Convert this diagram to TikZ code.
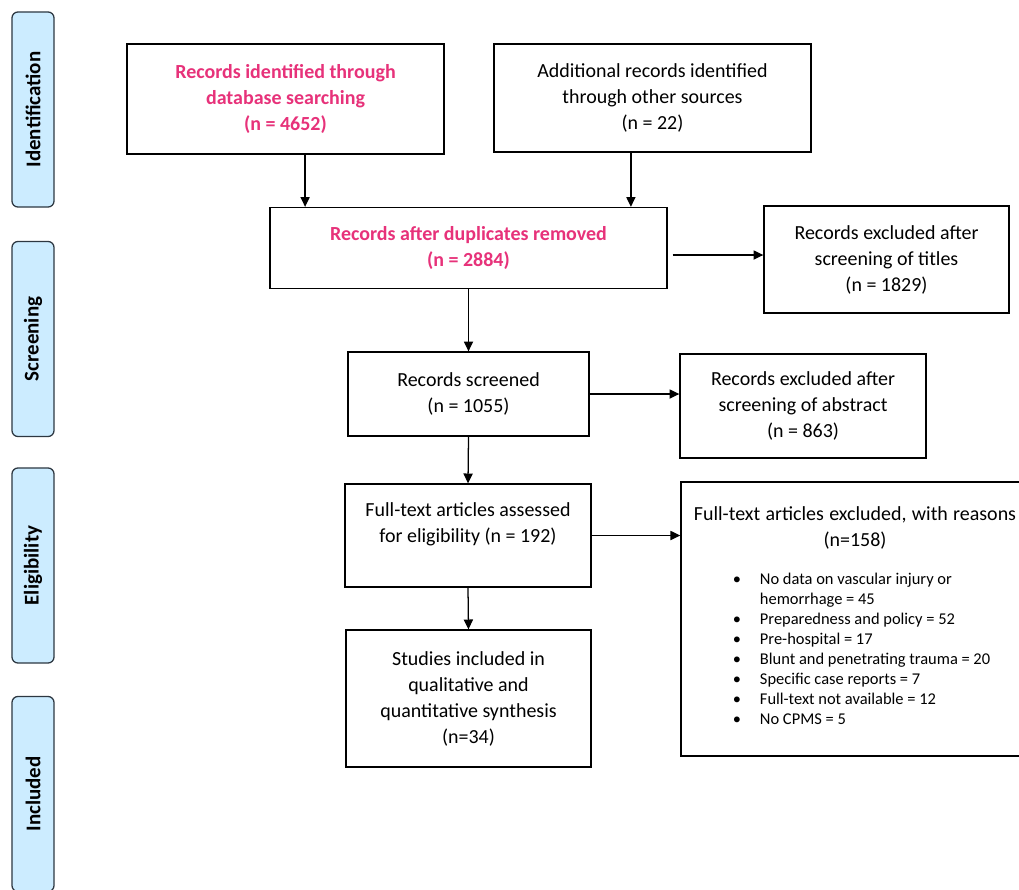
\documentclass[tikz,border=0pt]{standalone}
\usepackage{fontspec}
\setmainfont{Carlito}
\definecolor{prismapink}{RGB}{231,50,122}
\definecolor{prismablue}{RGB}{204,236,255}
\definecolor{prismaedge}{RGB}{45,55,65}
\usetikzlibrary{arrows.meta,positioning}
\newcommand{\boxfont}{\fontsize{14.2}{18.5}\selectfont}
\newcommand{\listfont}{\fontsize{11.7}{14.3}\selectfont\spaceskip=0pt\xspaceskip=0pt}
\newcommand{\sidefont}{\fontsize{14.9}{18}\selectfont\bfseries}
\tikzset{
  box/.style={rectangle,draw=black,line width=0.9pt,fill=white,
              inner sep=0pt,font=\boxfont,align=center,text=black},
  hot/.style={text=prismapink,font=\boxfont\bfseries},
  boxlabel/.style={font=\boxfont,align=center,yshift=0.29cm},
  side/.style={rectangle,rounded corners=0.15cm,draw=prismaedge,
               line width=0.9pt,fill=prismablue,minimum width=4.875cm,
               minimum height=1.05cm,rotate=90,font=\sidefont},
  arr/.style={-{Triangle[length=7pt,width=6.5pt]},line width=0.9pt},
}
\begin{document}
\begin{tikzpicture}[x=0.025cm,y=-0.025cm]
  \path[use as bounding box,clip] (0,0) rectangle (1019,889);
  % phase bars on the left
  \foreach \y/\phase [count=\i] in {109.5/Identification, 339/Screening,
                                   565.5/Eligibility, 794/Included}
    \node[side] (phase\i) at (33,\y) {\phase};
  % identification
  \node[box,hot,minimum width=7.925cm,minimum height=2.75cm] (db) at (285.5,99)
        {Records identified through\\database searching\\(n = 4652)};
  \node[box,minimum width=7.925cm,minimum height=2.7cm] (other) at (652.5,98)
        {Additional records identified\\through other sources\\(n = 22)};
  % screening
  \node[box,hot,minimum width=9.925cm,minimum height=2.025cm] (dup) at (468.5,248)
        {Records after duplicates removed\\(n = 2884)};
  \node[box,minimum width=6.125cm,minimum height=2.675cm] (titles) at (886.5,259.5)
        {Records excluded after\\screening of titles\\(n = 1829)};
  \node[box,minimum width=6.025cm,minimum height=2.1cm] (screened) at (468.5,394)
        {Records screened\\(n = 1055)};
  \node[box,minimum width=6.15cm,minimum height=2.6cm] (abstract) at (803,406)
        {Records excluded after\\screening of abstract\\(n = 863)};
  % eligibility
  \node[box,minimum width=6.15cm,minimum height=2.575cm,
        label={[boxlabel]center:{Full-text articles assessed\\for eligibility (n = 192)}}]
        (assessed) at (468,535.5) {};
  \node[box,text width=8.7cm,minimum height=6.85cm,
        execute at begin node={\spaceskip=0pt\xspaceskip=0pt}] (excl) at (855,619)
        {Full-text articles excluded, with reasons\\(n=158)\\[0.28cm]
         \makebox[8.7cm][l]{\hspace{1.3cm}\listfont
         \begin{tabular}[t]{@{}p{0.675cm}@{}l@{}}
           \textbullet & No data on vascular injury or\\
                       & hemorrhage = 45\\
           \textbullet & Preparedness and policy = 52\\
           \textbullet & Pre-hospital = 17\\
           \textbullet & Blunt and penetrating trauma = 20\\
           \textbullet & Specific case reports = 7\\
           \textbullet & Full-text not available = 12\\
           \textbullet & No CPMS = 5
         \end{tabular}}};
  % included
  \node[box,minimum width=6.125cm,minimum height=3.425cm] (incl) at (468.5,698.5)
        {Studies included in\\qualitative and\\quantitative synthesis\\(n=34)};
  % connectors
  \draw[arr] ([xshift=0.49cm]db.south) coordinate (dbout) -- (dbout |- dup.north);
  \draw[arr] ([xshift=-0.54cm]other.south) coordinate (otherout) -- (otherout |- dup.north);
  \draw[arr,shorten <=0.125cm] ([yshift=-0.175cm]dup.east) coordinate (dupout)
        -- (dupout -| titles.west);
  \draw[arr] (dup.south) -- (screened.north);
  \draw[arr] (screened.east) -- (screened.east -| abstract.west);
  \draw[arr] (screened.south) -- (assessed.north);
  \draw[arr] (assessed.east) -- (assessed.east -| excl.west);
  \draw[arr] (assessed.south) -- (incl.north);
\end{tikzpicture}
\end{document}
